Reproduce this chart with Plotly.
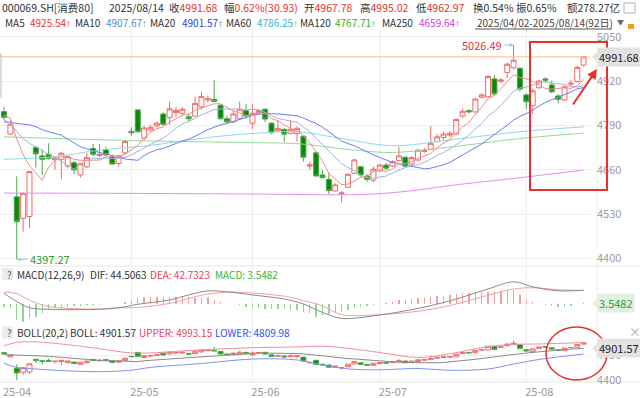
import plotly.graph_objects as go

W, H = 640, 398


def px(v):
    return v / W


def py(v):
    return 1 - v / H


# ---------------- data ----------------
dates = [
    "2025-04-02", "2025-04-03", "2025-04-07", "2025-04-08", "2025-04-09", "2025-04-10", "2025-04-11",
    "2025-04-14", "2025-04-15", "2025-04-16", "2025-04-17", "2025-04-18", "2025-04-21", "2025-04-22",
    "2025-04-23", "2025-04-24", "2025-04-25", "2025-04-28", "2025-04-29", "2025-04-30",
    "2025-05-06", "2025-05-07", "2025-05-08", "2025-05-09", "2025-05-12", "2025-05-13", "2025-05-14",
    "2025-05-15", "2025-05-16", "2025-05-19", "2025-05-20", "2025-05-21", "2025-05-22", "2025-05-23",
    "2025-05-26", "2025-05-27", "2025-05-28", "2025-05-29", "2025-05-30",
    "2025-06-03", "2025-06-04", "2025-06-05", "2025-06-06", "2025-06-09", "2025-06-10", "2025-06-11",
    "2025-06-12", "2025-06-13", "2025-06-16", "2025-06-17", "2025-06-18", "2025-06-19", "2025-06-20",
    "2025-06-23", "2025-06-24", "2025-06-25", "2025-06-26", "2025-06-27", "2025-06-30",
    "2025-07-01", "2025-07-02", "2025-07-03", "2025-07-04", "2025-07-07", "2025-07-08", "2025-07-09",
    "2025-07-10", "2025-07-11", "2025-07-14", "2025-07-15", "2025-07-16", "2025-07-17", "2025-07-18",
    "2025-07-21", "2025-07-22", "2025-07-23", "2025-07-24", "2025-07-25", "2025-07-28", "2025-07-29",
    "2025-07-30", "2025-07-31",
    "2025-08-01", "2025-08-04", "2025-08-05", "2025-08-06", "2025-08-07", "2025-08-08", "2025-08-11",
    "2025-08-12", "2025-08-13", "2025-08-14",
]

open_ = [4831, 4765, 4581, 4518, 4523, 4726, 4701, 4706, 4690, 4691,
         4671, 4681, 4645, 4669, 4723, 4702, 4720, 4699, 4679, 4710,
         4773, 4836, 4753, 4777, 4789, 4824, 4814, 4828, 4826, 4816,
         4818, 4845, 4865, 4867, 4850, 4810, 4801, 4810, 4834, 4797,
         4828, 4838, 4797, 4775, 4779, 4767, 4767, 4759, 4671, 4710,
         4645, 4632, 4598, 4590, 4609, 4650, 4669, 4642, 4630, 4657,
         4674, 4671, 4687, 4697, 4677, 4689, 4714, 4720, 4743, 4755,
         4762, 4765, 4818, 4834, 4830, 4873, 4875, 4927, 4920, 4946,
         4960, 4958, 4880, 4848, 4901, 4927, 4909, 4877, 4865, 4912,
         4919, 4967.78]
high = [4845, 4806, 4641, 4593, 4657, 4730, 4720, 4738, 4700, 4712,
        4702, 4686, 4680, 4710, 4736, 4736, 4728, 4705, 4703, 4748,
        4785, 4838, 4790, 4792, 4803, 4828, 4860, 4845, 4845, 4825,
        4875, 4889, 4878, 4924, 4852, 4818, 4833, 4860, 4853, 4853,
        4838, 4840, 4800, 4806, 4782, 4806, 4788, 4760, 4684, 4714,
        4660, 4651, 4620, 4598, 4650, 4692, 4672, 4648, 4670, 4677,
        4680, 4688, 4728, 4700, 4700, 4722, 4725, 4789, 4765, 4772,
        4775, 4810, 4840, 4838, 4870, 4885, 4938, 4938, 4930, 4975,
        5026.49, 4962, 4885, 4898, 4925, 4932, 4922, 4882, 4908, 4925,
        4966, 4995.02]
low = [4806, 4762, 4397.27, 4479, 4489, 4667, 4645, 4690, 4660, 4632,
       4665, 4648, 4638, 4665, 4700, 4697, 4700, 4675, 4670, 4705,
       4760, 4770, 4748, 4772, 4785, 4790, 4792, 4815, 4820, 4800,
       4818, 4836, 4858, 4858, 4808, 4796, 4796, 4808, 4810, 4780,
       4822, 4800, 4765, 4772, 4743, 4765, 4743, 4684, 4660, 4640,
       4636, 4589, 4596, 4564, 4608, 4648, 4640, 4625, 4622, 4654,
       4660, 4668, 4685, 4668, 4668, 4685, 4710, 4718, 4740, 4748,
       4755, 4762, 4812, 4826, 4828, 4870, 4872, 4878, 4915, 4930,
       4955, 4890, 4839, 4823, 4898, 4915, 4885, 4855, 4862, 4905,
       4916, 4962.97]
close = [4814, 4794, 4508, 4591, 4655, 4707, 4691, 4694, 4695, 4709,
         4699, 4660, 4678, 4696, 4706, 4706, 4704, 4677, 4701, 4743,
         4769, 4772, 4783, 4785, 4797, 4794, 4839, 4834, 4838, 4810,
         4855, 4875, 4869, 4861, 4810, 4801, 4824, 4838, 4818, 4826,
         4834, 4809, 4769, 4782, 4765, 4779, 4782, 4697, 4675, 4642,
         4637, 4599, 4616, 4592, 4647, 4689, 4645, 4632, 4662, 4674,
         4665, 4684, 4701, 4671, 4696, 4718, 4717, 4738, 4757, 4765,
         4767, 4808, 4832, 4830, 4868, 4880, 4934, 4883, 4924, 4970,
         4982, 4897, 4860, 4892, 4921, 4923, 4889, 4867, 4904, 4914,
         4960.75, 4991.68]

ma5 = [4822, 4812, 4750, 4705, 4672, 4651, 4630, 4668, 4688, 4699,
       4698, 4691, 4688, 4688, 4688, 4689, 4698, 4698, 4699, 4706,
       4719, 4732, 4754, 4770, 4781, 4786, 4800, 4810, 4820, 4823,
       4835, 4842, 4849, 4854, 4854, 4843, 4833, 4827, 4818, 4821,
       4828, 4825, 4811, 4804, 4792, 4781, 4775, 4761, 4740, 4715,
       4687, 4650, 4634, 4617, 4618, 4629, 4638, 4641, 4655, 4660,
       4656, 4663, 4677, 4679, 4683, 4694, 4701, 4708, 4725, 4739,
       4749, 4767, 4786, 4800, 4821, 4844, 4869, 4879, 4898, 4918,
       4939, 4931, 4927, 4920, 4910, 4899, 4897, 4898, 4901, 4899,
       4907, 4925.54]
ma10 = [4806, 4798, 4772, 4752, 4738, 4728, 4716, 4706, 4695, 4686,
        4674, 4661, 4678, 4688, 4694, 4693, 4695, 4693, 4694, 4697,
        4704, 4715, 4726, 4735, 4744, 4753, 4766, 4782, 4795, 4802,
        4811, 4821, 4830, 4837, 4839, 4839, 4838, 4838, 4836, 4838,
        4836, 4829, 4819, 4811, 4807, 4804, 4800, 4786, 4772, 4753,
        4734, 4713, 4697, 4678, 4667, 4658, 4644, 4637, 4636, 4639,
        4642, 4651, 4659, 4667, 4672, 4675, 4682, 4693, 4702, 4711,
        4721, 4734, 4747, 4763, 4780, 4796, 4818, 4832, 4849, 4870,
        4891, 4900, 4903, 4909, 4914, 4919, 4914, 4913, 4911, 4905,
        4903, 4907.67]
ma20 = [4801, 4799, 4796, 4794, 4792, 4787, 4778, 4772, 4767, 4762,
        4750, 4740, 4728, 4722, 4716, 4711, 4707, 4703, 4697, 4692,
        4689, 4688, 4702, 4712, 4719, 4723, 4730, 4738, 4745, 4750,
        4758, 4768, 4778, 4786, 4792, 4796, 4802, 4810, 4816, 4820,
        4824, 4825, 4825, 4824, 4823, 4822, 4819, 4812, 4804, 4796,
        4785, 4771, 4758, 4745, 4737, 4731, 4722, 4712, 4704, 4696,
        4688, 4682, 4678, 4673, 4670, 4667, 4663, 4665, 4669, 4675,
        4682, 4693, 4703, 4715, 4726, 4736, 4750, 4763, 4776, 4791,
        4806, 4817, 4825, 4836, 4847, 4858, 4866, 4873, 4880, 4888,
        4898, 4901.57]

ma60_idx = [0, 8, 15, 22, 33, 40, 46, 53, 61, 70, 81, 91]
ma60_val = [4691, 4699, 4718, 4730, 4757, 4768, 4772, 4752, 4731, 4748, 4772, 4786.25]
ma120_idx = [0, 20, 39, 46, 50, 55, 61, 70, 81, 91]
ma120_val = [4757, 4746, 4740, 4737, 4729, 4718, 4711, 4727, 4752, 4767.71]
ma250_idx = [0, 20, 40, 52, 58, 65, 70, 81, 91]
ma250_val = [4592, 4591, 4589, 4587, 4589, 4601, 4614, 4637, 4659.64]

macd_idx = [0, 2, 4, 7, 10, 15, 18, 21, 26, 29, 32, 35, 39, 44, 47, 50, 53, 59, 65, 70, 76, 80, 83, 87, 91]
dif_val = [34, 8, -12, -17, -18, -17, -12, -1, 13, 29, 42, 39, 29, 16, 0, -27, -46, -35, -14, 10, 48, 71, 55, 42,
           44.5063]
dea_val = [38, 33, 12, -8, -14, -16, -12, -11, 2, 18, 32, 38, 35, 25, 11, -6, -34, -34, -23, -5, 28, 48, 52, 46,
           42.7323]
macd_hist = [-8, -14, -51, -57, -46, -40, -30, -19, -14, -12,
             -8, -6, -5, -3, -2, -2, -1, -1, 0, 5,
             13, 20, 23, 23, 22, 21, 23, 22, 23, 21,
             20, 18, 21, 13, 5, 1, -1, -3, -8, -14,
             -14, -17, -15, -17, -17, -19, -19, -24, -30, -40,
             -36, -32, -28, -24, -18, -14, -10, -7, -4, -1,
             3, 7, 12, 13, 17, 18, 20, 23, 27, 27,
             29, 31, 34, 34, 37, 39, 39, 42, 42, 45,
             45, 29, 13, 5, -1, -3, -5, -8, -8, -5,
             -1, 3.5482]

boll_idx = [0, 2, 5, 10, 15, 20, 23, 31, 39, 46, 50, 54, 59, 65, 70, 76, 80, 84, 91]
boll_upper = [4939, 4997, 5004, 4959, 4895, 4827, 4828, 4878, 4911, 4923, 4936, 4902, 4834, 4755, 4814, 4929,
              4963, 4971, 4993.15]
boll_lower = [4663, 4595, 4570, 4541, 4527, 4551, 4596, 4658, 4729, 4715, 4634, 4572, 4558, 4579, 4550, 4571,
              4649, 4723, 4809.98]

month_labels = ["25-04", "25-05", "25-06", "25-07", "25-08"]
main_ticks = [4400, 4530, 4660, 4790, 4920, 5050]
boll_ticks = [4400, 4790]

x = list(range(len(dates)))
month_starts = [i for i, d in enumerate(dates) if i == 0 or d[5:7] != dates[i - 1][5:7]]
i_max = high.index(max(high))
i_min = low.index(min(low))

# ---------------- style ----------------
FONT = "Noto Sans CJK SC, Noto Sans, sans-serif"
FS = 10.5
FS2 = 10
UP = "#f06a6a"
DN_FILL = "#0a8a0a"
DN_LINE = "#4aa84a"
DARK = "#333333"
RED = "#e8322d"
GRAY = "#9a9a9a"
XR = [-0.63, 92.0]
XDOM = [0, 590 / W]
Y1 = [4383.8, 5061.7]       # main panel, pixel rows 33..264
Y2 = [-57.6, 76.8]          # MACD panel, pixel rows 280..322
Y3 = [4362.4, 5098.4]       # BOLL panel, pixel rows 336..382

fig = go.Figure()


def candles(xa, ya):
    return go.Candlestick(
        x=x, open=open_, high=high, low=low, close=close, xaxis=xa, yaxis=ya,
        increasing=dict(line=dict(color=UP, width=1), fillcolor="rgba(255,255,255,0)"),
        decreasing=dict(line=dict(color=DN_LINE, width=1), fillcolor=DN_FILL),
        whiskerwidth=0, hoverinfo="skip", showlegend=False)


# main panel
fig.add_trace(candles("x", "y"))
for xs, ys, col, shape in [
    (ma250_idx, ma250_val, "#e38cf0", "spline"),
    (ma120_idx, ma120_val, "#97d897", "spline"),
    (ma60_idx, ma60_val, "#86dde8", "spline"),
    (x, ma20, "#6b7ef2", "linear"),
    (x, ma10, "#9db7d3", "linear"),
    (x, ma5, "#f08c8c", "linear"),
]:
    fig.add_trace(go.Scatter(x=xs, y=ys, mode="lines", line=dict(color=col, width=1, shape=shape),
                             xaxis="x", yaxis="y", hoverinfo="skip", showlegend=False))

# MACD panel
fig.add_trace(go.Bar(x=x, y=macd_hist, width=0.22,
                     marker=dict(color=["#f5a0a0" if v >= 0 else "#93d693" for v in macd_hist], line_width=0),
                     xaxis="x2", yaxis="y2", hoverinfo="skip", showlegend=False))
fig.add_trace(go.Scatter(x=macd_idx, y=dea_val, mode="lines", line=dict(color="#f0a0a8", width=1, shape="spline"),
                         xaxis="x2", yaxis="y2", hoverinfo="skip", showlegend=False))
fig.add_trace(go.Scatter(x=macd_idx, y=dif_val, mode="lines", line=dict(color="#8a8a8a", width=1, shape="spline"),
                         xaxis="x2", yaxis="y2", hoverinfo="skip", showlegend=False))

# BOLL panel
fig.add_trace(go.Scatter(x=boll_idx, y=boll_upper, mode="lines", line=dict(color="#f08f9c", width=1, shape="spline"),
                         xaxis="x3", yaxis="y3", hoverinfo="skip", showlegend=False))
fig.add_trace(go.Scatter(x=boll_idx, y=boll_lower, mode="lines", line=dict(color="#8190f5", width=1, shape="spline"),
                         xaxis="x3", yaxis="y3", hoverinfo="skip", showlegend=False))
fig.add_trace(go.Scatter(x=x, y=ma20, mode="lines", line=dict(color="#8a8a8a", width=1),
                         xaxis="x3", yaxis="y3", hoverinfo="skip", showlegend=False))
fig.add_trace(candles("x3", "y3"))

axis_common = dict(domain=XDOM, range=XR, showgrid=False, zeroline=False, showline=False, automargin=False,
                   rangeslider=dict(visible=False), fixedrange=True)
fig.update_layout(
    template="none",
    width=W, height=H, autosize=False,
    margin=dict(l=0, r=0, t=0, b=0, pad=0),
    paper_bgcolor="white", plot_bgcolor="white",
    font=dict(family=FONT, size=FS, color=DARK),
    showlegend=False, hovermode=False, bargap=0, boxgap=0.22, boxgroupgap=0,
    xaxis=dict(anchor="y", showticklabels=False, **axis_common),
    xaxis2=dict(anchor="y2", matches="x", showticklabels=False, **axis_common),
    xaxis3=dict(anchor="y3", matches="x", showticklabels=True, tickvals=month_starts, ticktext=month_labels,
                ticks="", ticklabelshift=13, ticklabelstandoff=2, tickfont=dict(size=11, color=GRAY),
                **axis_common),
    yaxis=dict(domain=[py(264), py(33)], range=Y1, side="right", tickvals=main_ticks, automargin=False,
               showgrid=True, gridcolor="#eeeeee", gridwidth=1, zeroline=False, showline=False, ticks="",
               ticklabelstandoff=6, tickfont=dict(size=11, color=GRAY), fixedrange=True),
    yaxis2=dict(domain=[py(322), py(280)], range=Y2, showticklabels=False, showgrid=False, automargin=False,
                zeroline=False, fixedrange=True, side="right"),
    yaxis3=dict(domain=[py(382), py(336)], range=Y3, side="right", tickvals=boll_ticks, automargin=False,
                showgrid=True, gridcolor="#f2f2f2", zeroline=False, showline=False, ticks="",
                ticklabelstandoff=6, tickfont=dict(size=11, color=GRAY), fixedrange=True),
)

shapes = []
# vertical month grid lines through all panels
for i in month_starts[1:]:
    shapes.append(dict(type="line", xref="x", yref="paper", x0=i, x1=i, y0=py(382), y1=py(30),
                       line=dict(color="#ececec", width=1), layer="below"))
# right edge of plotting area
shapes.append(dict(type="line", xref="paper", yref="paper", x0=px(597), x1=px(597), y0=py(382), y1=py(30),
                   line=dict(color="#f0f0f0", width=1), layer="below"))
# panel separators
for yy in (266, 382):
    shapes.append(dict(type="line", xref="paper", yref="paper", x0=0, x1=1, y0=py(yy), y1=py(yy),
                       line=dict(color="#e6e6e6", width=1), layer="below"))
# left scroll mark
shapes.append(dict(type="rect", xref="paper", yref="paper", x0=0, x1=px(2), y0=py(98), y1=py(53),
                   fillcolor="#dcdcdc", line=dict(width=0)))
# latest close line
shapes.append(dict(type="line", xref="paper", yref="y", x0=0, x1=px(590), y0=close[-1], y1=close[-1],
                   line=dict(color="#ffbb88", width=1)))
# pointer triangles of right-side value boxes (half height 5 px in each panel's units)
for yref, val, half, col in [("y", close[-1], 5 * (Y1[1] - Y1[0]) / 231, "#e2e2e2"),
                             ("y2", macd_hist[-1], 5 * (Y2[1] - Y2[0]) / 42, "#e4efe4"),
                             ("y3", ma20[-1], 5 * (Y3[1] - Y3[0]) / 46, "#e2e2e2")]:
    shapes.append(dict(type="path", xref="paper", yref=yref,
                       path=f"M {px(592)} {val} L {px(597.5)} {val + half} L {px(597.5)} {val - half} Z",
                       fillcolor=col, line=dict(width=0)))
# date range underline
shapes.append(dict(type="line", xref="paper", yref="paper", x0=px(475), x1=px(612), y0=py(29), y1=py(29),
                   line=dict(color="#555555", width=1)))
# "?" boxes
for yc in (274, 332.5):
    shapes.append(dict(type="rect", xref="paper", yref="paper", x0=px(2), x1=px(13), y0=py(yc + 6), y1=py(yc - 6),
                       fillcolor="#ebebeb", line=dict(width=0)))
# red highlight box & ellipse
shapes.append(dict(type="rect", xref="paper", yref="paper", x0=px(530), x1=px(607), y0=py(190), y1=py(42),
                   line=dict(color="#e8312a", width=2)))
shapes.append(dict(type="circle", xref="paper", yref="paper", x0=px(546), x1=px(607), y0=py(380), y1=py(327),
                   line=dict(color="#e8312a", width=1.5)))
# small icons top right
shapes.append(dict(type="rect", xref="paper", yref="paper", x0=px(624), x1=px(635), y0=py(13), y1=py(3),
                   line=dict(color="#b0b0b0", width=1)))
shapes.append(dict(type="rect", xref="paper", yref="paper", x0=px(628), x1=px(634), y0=py(29), y1=py(24),
                   fillcolor="#f0a020", line=dict(width=0)))
fig.update_layout(shapes=shapes)

ann = []


def text(xp, yp, t, color=DARK, size=FS, **kw):
    ann.append(dict(x=px(xp), y=py(yp), xref="paper", yref="paper", xanchor="left", yanchor="middle",
                    text=t, showarrow=False, font=dict(size=size, color=color, family=FONT), **kw))


def red(t, c=RED):
    return f"<span style='color:{c}'>{t}</span>"


ARROW = "<span style='font-family:Liberation Sans'>↑</span>"

# header line 1
text(0, 8, "000069.SH[消费80]")
text(107, 8, "2025/08/14")
text(167, 8, "收" + red(f"{close[-1]:.2f}"))
text(222, 8, "幅" + red("0.62%(30.93)"))
text(302, 8, "开" + red(f"{open_[-1]:.2f}"))
text(358, 8, "高" + red(f"{high[-1]:.2f}"))
text(414, 8, "低" + red(f"{low[-1]:.2f}"))
text(471, 8, "换0.54%")
text(514, 8, "振0.65%")
text(565, 8, "额278.27亿")

# header line 2: moving averages
for lab, lx, val, vx, col in [
    ("MA5", 3, ma5[-1], 28, "#e8322d"),
    ("MA10", 73, ma10[-1], 104, "#4f8fca"),
    ("MA20", 148, ma20[-1], 180, "#3040ee"),
    ("MA60", 224, ma60_val[-1], 255, "#22bcd4"),
    ("MA120", 298, ma120_val[-1], 333, "#2faf2f"),
    ("MA250", 380, ma250_val[-1], 417, "#cc3ddd"),
]:
    text(lx, 22.5, lab, size=FS2)
    text(vx, 22.5, f"{val:.2f}" + ARROW, color=col, size=FS2)
text(475, 22.5, "2025/04/02-2025/08/14(92日)", color="#444444", size=FS2)
text(615, 22.5, "▼", color="#666666", size=7)

# MACD header
text(4.5, 274, "?", color="#555555", size=10)
text(15, 274, "MACD(12,26,9)", size=FS2)
text(88, 274, f"DIF: {dif_val[-1]:.4f}", size=FS2)
text(148, 274, f"DEA: {dea_val[-1]:.4f}", color="#e8405a", size=FS2)
text(213, 274, f"MACD: {macd_hist[-1]:.4f}", color="#3cb43c", size=FS2)

# BOLL header
text(4.5, 332.5, "?", color="#555555", size=10)
text(15, 332.5, "BOLL(20,2)", size=FS2)
text(68, 332.5, f"BOLL: {ma20[-1]:.2f}", size=FS2)
text(137, 332.5, f"UPPER: {boll_upper[-1]:.2f}", color="#e8405a", size=FS2)
text(213, 332.5, f"LOWER: {boll_lower[-1]:.2f}", color="#3050f5", size=FS2)
text(627, 331, "×", color="#aaaaaa", size=12)

# right-side value boxes
for yref, val, fmt, fc, bg in [
    ("y", close[-1], "{:.2f}", "#222222", "#e2e2e2"),
    ("y2", macd_hist[-1], "{:.4f}", "#2aa02a", "#e4efe4"),
    ("y3", ma20[-1], "{:.2f}", "#222222", "#e2e2e2"),
]:
    ann.append(dict(x=px(597), y=val, xref="paper", yref=yref, xanchor="left", yanchor="middle",
                    text=fmt.format(val), showarrow=False, bgcolor=bg, borderpad=1,
                    font=dict(size=11, color=fc, family=FONT)))

# extreme price labels
ann.append(dict(x=i_max, y=high[i_max], xref="x", yref="y", text=f"{high[i_max]:.2f}", showarrow=True,
                ax=-10, ay=0, xanchor="right", arrowhead=2, arrowsize=0.8, arrowwidth=1, arrowcolor="#a8c4e4",
                font=dict(size=11, color="#e03030", family=FONT)))
ann.append(dict(x=i_min, y=low[i_min], xref="x", yref="y", text=f"{low[i_min]:.2f}", showarrow=True,
                ax=11, ay=0, xanchor="left", arrowhead=2, arrowsize=0.8, arrowwidth=1, arrowcolor="#a8c4e4",
                font=dict(size=11, color="#2a9a2a", family=FONT)))

# red trend arrow
ann.append(dict(x=px(597), y=py(69), xref="paper", yref="paper", text="", showarrow=True,
                ax=-25, ay=37, arrowhead=2, arrowsize=1, arrowwidth=2, arrowcolor="#e8312a"))

fig.update_layout(annotations=ann)

fig.write_html("out.html", config={"displayModeBar": False, "staticPlot": True},
               post_script="document.body.style.margin='0px';document.body.style.overflow='hidden';")
